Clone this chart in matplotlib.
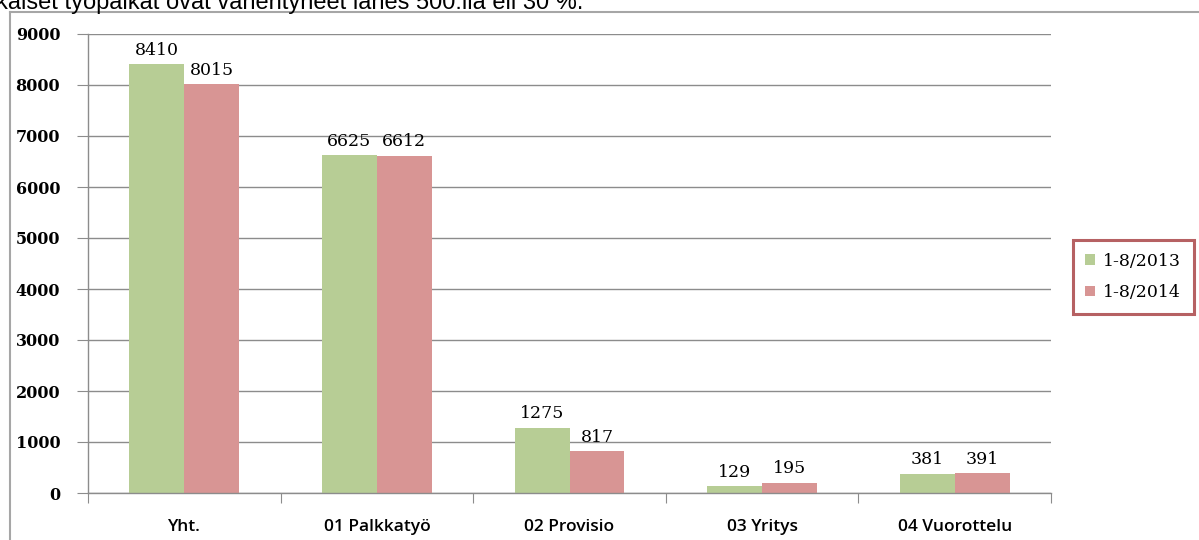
import matplotlib
matplotlib.use("Agg")
import matplotlib.pyplot as plt
import numpy as np

categories = ["Yht.", "01 Palkkatyö", "02 Provisio", "03 Yritys", "04 Vuorottelu"]
series_names = ["1-8/2013", "1-8/2014"]
values_2013 = [8410, 6625, 1275, 129, 381]
values_2014 = [8015, 6612, 817, 195, 391]
y_ticks = [0, 1000, 2000, 3000, 4000, 5000, 6000, 7000, 8000, 9000]

green = "#B7CD95"
red = "#D89594"
grid_gray = "#8C8C8C"

fig = plt.figure(figsize=(11.99, 5.40), dpi=100)

# cut off sentence from the page above the chart
fig.text(-0.003, 1 - 9 / 540, "kaiset työpaikat ovat vähentyneet lähes 500:lla eli 30 %.",
         family="Liberation Sans", fontsize=17, color="black", va="baseline", ha="left")

# chart frame (left and top edges visible)
fig.add_artist(plt.Line2D([9.5 / 1199, 9.5 / 1199], [0, 1 - 12 / 540],
                          transform=fig.transFigure, color="#A6A6A6", lw=1.5))
fig.add_artist(plt.Line2D([9.5 / 1199, 1.0], [1 - 12 / 540, 1 - 12 / 540],
                          transform=fig.transFigure, color="#A6A6A6", lw=1.5))

ax = fig.add_axes([88 / 1199, 1 - 493 / 540, (1051 - 88) / 1199, (493 - 34) / 540])

x = np.arange(len(categories))
w = 0.285
bars1 = ax.bar(x - w / 2, values_2013, width=w, color=green, label=series_names[0], zorder=2)
bars2 = ax.bar(x + w / 2, values_2014, width=w, color=red, label=series_names[1], zorder=2)

for rects in (bars1, bars2):
    for rect in rects:
        h = rect.get_height()
        ax.annotate("{}".format(h),
                    xy=(rect.get_x() + rect.get_width() / 2, h),
                    xytext=(0, 4), textcoords="offset points",
                    ha="center", va="bottom", fontsize=12.5,
                    family="DejaVu Serif", zorder=3)

ax.set_xlim(-0.5, len(categories) - 0.5)
ax.set_ylim(0, 9000)
ax.set_yticks(y_ticks)
ax.set_yticklabels([str(v) for v in y_ticks], family="DejaVu Serif",
                   fontweight="bold", fontsize=11.5)
ax.yaxis.grid(True, color=grid_gray, lw=1, zorder=0)
ax.set_axisbelow(True)

ax.set_xticks(np.arange(len(categories) + 1) - 0.5)
ax.set_xticklabels([])
ax.set_xticks(x, minor=True)
ax.set_xticklabels(categories, minor=True, family="Open Sans", fontsize=12.5,
                   fontweight="semibold")
ax.tick_params(axis="x", which="minor", length=0, pad=19)
ax.tick_params(axis="x", which="major", length=7, color=grid_gray, direction="out")
ax.tick_params(axis="y", length=8, color=grid_gray, direction="out", pad=12)

for s in ("top", "right"):
    ax.spines[s].set_visible(False)
for s in ("left", "bottom"):
    ax.spines[s].set_color(grid_gray)
    ax.spines[s].set_linewidth(1)

leg = ax.legend(loc="center left", bbox_to_anchor=(1073 / 1199, 1 - 277 / 540),
                bbox_transform=fig.transFigure,
                prop={"family": "DejaVu Serif", "size": 12.5},
                handlelength=0.55, handleheight=0.55, handletextpad=0.5,
                labelspacing=0.85, borderpad=0.7, borderaxespad=0,
                fancybox=False, frameon=True)
leg.get_frame().set_edgecolor("#A43A3C")
leg.get_frame().set_linewidth(2.2)

fig.savefig("out.png", dpi=100)
